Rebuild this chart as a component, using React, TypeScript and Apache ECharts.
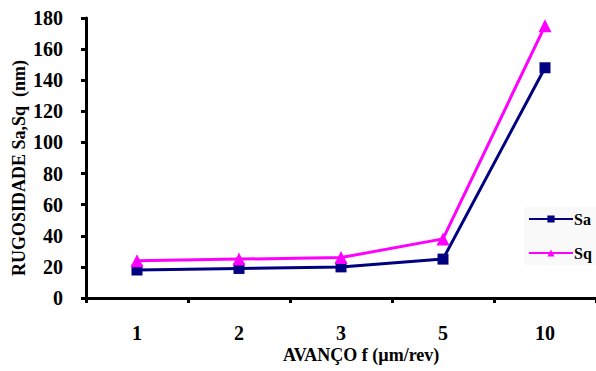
import React, { useEffect, useRef } from "react";
import * as echarts from "echarts";

const categories = ["1", "2", "3", "5", "10"];
const saValues = [18, 19, 20, 25, 148];
const sqValues = [24, 25, 26, 38, 175];
const yTicks = { min: 0, max: 180, interval: 20 };

export default function App() {
  const ref = useRef<HTMLDivElement>(null);
  useEffect(() => {
    const chart = echarts.init(ref.current!, null, { renderer: "svg" });
    const font = "'Liberation Serif', 'Times New Roman', serif";
    chart.setOption({
      animation: false,
      backgroundColor: "#ffffff",
      grid: { left: 86, top: 18, width: 515, height: 280 },
      legend: {
        orient: "vertical",
        left: 524,
        top: 207,
        itemWidth: 44,
        itemHeight: 9,
        itemGap: 18,
        padding: [4, 10, 4, 4],
        backgroundColor: "#f9f9f9",
        lineStyle: { width: 2 },
        textStyle: { fontFamily: font, fontWeight: "bold", fontSize: 16, color: "#000", padding: [0, 0, 0, -4] },
        data: ["Sa", "Sq"],
      },
      xAxis: {
        type: "category",
        data: categories,
        boundaryGap: true,
        axisLine: { lineStyle: { color: "#000", width: 3 } },
        axisTick: { show: true, length: 5, lineStyle: { color: "#000", width: 3 } },
        axisLabel: { margin: 25, fontFamily: font, fontWeight: "bold", fontSize: 20, color: "#000" },
        splitLine: { show: false },
      },
      yAxis: {
        type: "value",
        min: yTicks.min,
        max: yTicks.max,
        interval: yTicks.interval,
        axisLine: { show: true, lineStyle: { color: "#000", width: 3 } },
        axisTick: { show: true, length: 5, lineStyle: { color: "#000", width: 3 } },
        axisLabel: { margin: 23, fontFamily: font, fontWeight: "bold", fontSize: 20, color: "#000" },
        splitLine: { show: false },
      },
      graphic: [
        {
          type: "text",
          left: 283,
          top: 346,
          style: { text: "AVANÇO f (µm/rev)", fontFamily: font, fontWeight: "bold", fontSize: 18, fill: "#000" },
        },
        {
          type: "text",
          x: 10,
          y: 276,
          rotation: Math.PI / 2,
          style: { text: "RUGOSIDADE Sa,Sq  (nm)", fontFamily: font, fontWeight: "bold", fontSize: 18, fill: "#000" },
        },
      ],
      series: [
        {
          name: "Sa",
          type: "line",
          data: saValues,
          symbol: "rect",
          symbolSize: 11,
          itemStyle: { color: "#000080" },
          lineStyle: { color: "#000080", width: 3 },
        },
        {
          name: "Sq",
          type: "line",
          data: sqValues,
          symbol: "triangle",
          symbolSize: 13,
          itemStyle: { color: "#ff00ff" },
          lineStyle: { color: "#ff00ff", width: 3 },
        },
      ],
    });
    return () => chart.dispose();
  }, []);
  return (
    <div
      ref={ref}
      style={{ position: "fixed", left: 0, top: 0, width: 596, height: 371 }}
    />
  );
}
